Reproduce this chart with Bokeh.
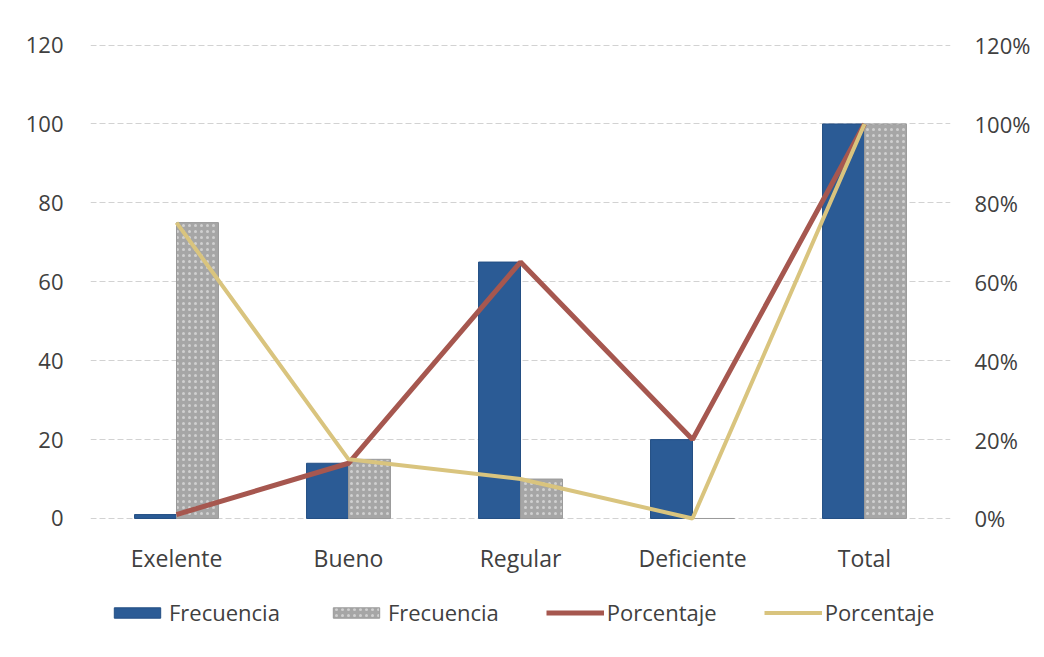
from bokeh.plotting import figure
from bokeh.models import (ColumnDataSource, FactorRange, Range1d, LinearAxis,
                          FixedTicker, NumeralTickFormatter, Legend, LegendItem)
from bokeh.transform import dodge
from bokeh.embed import file_html
from bokeh.resources import INLINE

# Evaluation categories
categories = ["Exelente", "Bueno", "Regular", "Deficiente", "Total"]

# First group: frequency and its percentage
frecuencia_1 = [1, 14, 65, 20, 100]
porcentaje_1 = [0.01, 0.14, 0.65, 0.20, 1.00]

# Second group: frequency and its percentage
frecuencia_2 = [75, 15, 10, 0, 100]
porcentaje_2 = [0.75, 0.15, 0.10, 0.00, 1.00]

left_ticks = [0, 20, 40, 60, 80, 100, 120]
right_ticks = [0, 0.2, 0.4, 0.6, 0.8, 1.0, 1.2]

src = ColumnDataSource(dict(cat=categories, f1=frecuencia_1, f2=frecuencia_2,
                            p1=porcentaje_1, p2=porcentaje_2))

FONT = "Open Sans"
TXT = "#404040"

# The frame reaches down past zero so the category labels and the legend
# row can sit inside it, under the baseline.
Y_LO, Y_HI = -32.7, 120.4

p = figure(output_backend="svg", toolbar_location=None,
           x_range=FactorRange(*categories, range_padding=0),
           y_range=Range1d(Y_LO, Y_HI),
           frame_width=860, frame_height=604,
           min_border_left=90, min_border_right=94,
           min_border_top=43, min_border_bottom=0)
p.outline_line_color = None
p.background_fill_color = "white"
p.border_fill_color = "white"
p.extra_y_ranges = {"pct": Range1d(Y_LO / 100, Y_HI / 100)}

bw = 0.244
b1 = p.vbar(x=dodge("cat", -bw / 2, range=p.x_range), top="f1", width=bw,
            source=src, fill_color="#2b5b95", line_color="#244f84", line_width=1)
b2 = p.vbar(x=dodge("cat", bw / 2, range=p.x_range), top="f2", width=bw,
            source=src, fill_color="#a6a6a6", line_color="#9a9a9a", line_width=1,
            hatch_pattern=".", hatch_color="#d0d0d0", hatch_scale=6, hatch_weight=1.5)

l1 = p.line(x="cat", y="p1", source=src, y_range_name="pct",
            line_color="#a6574f", line_width=5)
l2 = p.line(x="cat", y="p2", source=src, y_range_name="pct",
            line_color="#d9c47e", line_width=4)

# Left axis (counts)
ya = p.yaxis[0]
ya.ticker = FixedTicker(ticks=left_ticks)
ya.axis_line_color = None
ya.major_tick_line_color = None
ya.minor_tick_line_color = None
ya.major_label_standoff = 21
ya.major_label_text_font = FONT
ya.major_label_text_font_size = "22px"
ya.major_label_text_color = TXT

# Right axis (percentages)
ra = LinearAxis(y_range_name="pct", ticker=FixedTicker(ticks=right_ticks),
                formatter=NumeralTickFormatter(format="0%"))
ra.axis_line_color = None
ra.major_tick_line_color = None
ra.minor_tick_line_color = None
ra.major_label_standoff = 18
ra.major_label_text_font = FONT
ra.major_label_text_font_size = "22px"
ra.major_label_text_color = TXT
p.add_layout(ra, "right")

# Category axis, pinned to the zero baseline
xa = p.xaxis[0]
xa.fixed_location = 0
xa.axis_line_color = None
xa.major_tick_line_color = None
xa.minor_tick_line_color = None
xa.major_label_standoff = 18
xa.major_label_text_font = FONT
xa.major_label_text_font_size = "23px"
xa.major_label_text_color = TXT

p.xgrid.grid_line_color = None
p.ygrid.grid_line_color = "#d2d2d2"
p.ygrid.grid_line_dash = "6 3"
p.ygrid.grid_line_width = 1

# Legend row under the category labels
legend = Legend(items=[
    LegendItem(label="Frecuencia", renderers=[b1]),
    LegendItem(label="Frecuencia", renderers=[b2]),
    LegendItem(label="Porcentaje", renderers=[l1]),
    LegendItem(label="Porcentaje", renderers=[l2]),
], orientation="horizontal", location=(18, 20), border_line_color=None,
    background_fill_alpha=0, glyph_width=58, glyph_height=13, label_standoff=3,
    spacing=47, padding=4, margin=0,
    label_text_font=FONT, label_text_font_size="22px", label_text_color=TXT)
p.add_layout(legend, "center")

open("out.html", "w").write(file_html(p, INLINE))
